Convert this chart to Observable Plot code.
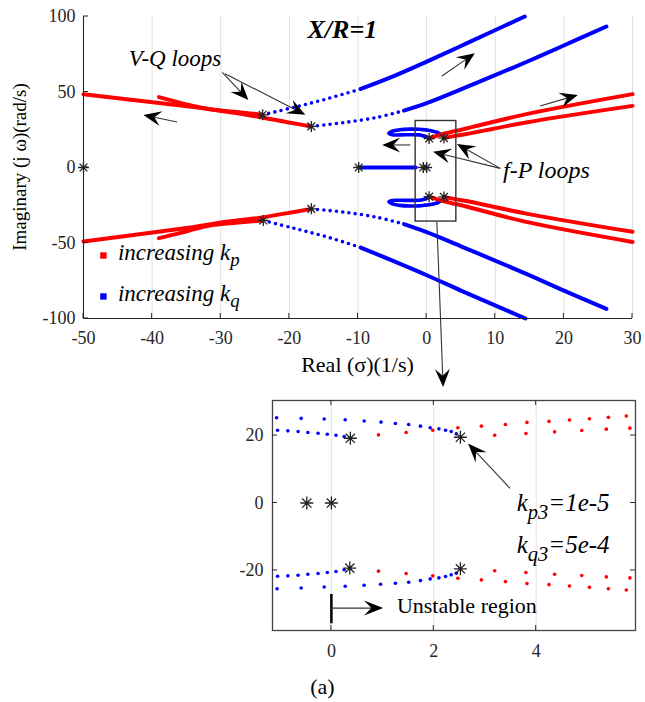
<!DOCTYPE html>
<html>
<head>
<meta charset="utf-8">
<script src="https://cdn.jsdelivr.net/npm/d3@7"></script>
<script src="https://cdn.jsdelivr.net/npm/@observablehq/plot@0.6"></script>
<style>
  body { margin: 0; background: #fff; }
  #fig { position: relative; width: 645px; height: 702px; font-family: "Liberation Serif", "Times New Roman", serif; }
  #fig svg { position: absolute; left: 0; }
  #fig svg text { font-family: "Liberation Serif", "Times New Roman", serif; }
  #caption { position: absolute; left: 0; width: 645px; top: 675px; text-align: center; font-size: 22px; line-height: 24px; color: #000; }
</style>
</head>
<body>
<div id="fig"><div id="caption">(a)</div></div>
<script>
// ---------- axes ----------
const mainXTicks = [-50, -40, -30, -20, -10, 0, 10, 20, 30];
const mainYTicks = [-100, -50, 0, 50, 100];
const insetXTicks = [0, 2, 4];
const insetYTicks = [-20, 0, 20];

// ---------- V-Q loops: k_p rising (red) ----------
const vqKpUpperA = [[-16.8, 27.2], [-20.3, 30.0], [-24.2, 33.3], [-28.6, 36.6], [-35.8, 41.0], [-50, 48.5]];
const vqKpUpperB = [[-23.9, 34.9], [-27, 36.5], [-31, 38.2], [-33.4, 40.2], [-36, 43.0], [-39, 46.6]];
const vqKpLowerA = [[-16.8, -27.4], [-20.3, -30.2], [-24.2, -33.2], [-28.6, -35.6], [-35.8, -40.6], [-50, -49.0]];
const vqKpLowerB = [[-23.8, -35.1], [-27, -36.3], [-31, -38.0], [-33.4, -40.3], [-36, -43.5], [-39, -46.8]];

// ---------- V-Q loops: k_q rising (blue); sparse samples near the start ----------
const vqKqUpperBSparse = [[-23.9, 34.9], [-19.3, 39.9], [-14.5, 45.5], [-9.6, 52.0]];
const vqKqUpperBDense = [[-9.6, 52.0], [-4.8, 60.5], [0.1, 70.3], [5, 80.5], [9.8, 90.6], [14.3, 100]];
const vqKqUpperASparse = [[-16.8, 27.2], [-12, 29.8], [-7.2, 33.2], [-3.3, 37.7]];
const vqKqUpperADense = [[-3.3, 37.7], [0.1, 42.8], [5, 51.8], [9.8, 60.8], [14.7, 70.2], [19.5, 79.8], [26.2, 93.4]];
const vqKqLowerASparse = [[-16.8, -27.4], [-12, -29.6], [-7.2, -33.0], [-3.3, -37.5]];
const vqKqLowerADense = [[-3.3, -37.5], [0.1, -43.0], [5, -52.2], [9.8, -61.3], [14.7, -70.8], [19.5, -80.5], [26.2, -93.6]];
const vqKqLowerBSparse = [[-23.8, -35.1], [-19.3, -40.3], [-14.5, -46.0], [-9.6, -53.0]];
const vqKqLowerBDense = [[-9.6, -53.0], [-4.8, -62.0], [0.1, -71.5], [5, -81.5], [9.8, -91.0], [14.4, -100]];

// ---------- f-P loops: k_p rising (red) ----------
const fpKpUpper1 = [[0.37, 19.2], [0.92, 20.2], [1.46, 20.9], [1.98, 21.6], [2.47, 22.3], [2.93, 22.8], [3.40, 23.3], [3.82, 23.9], [4.25, 24.2], [4.65, 24.6], [5.04, 25.0], [5.41, 25.4], [5.76, 25.8], [14.7, 35.5], [30, 48.6]];
const fpKpUpper2 = [[2.52, 19.5], [3.19, 20.1], [3.80, 20.6], [4.36, 21.1], [4.89, 21.5], [5.37, 21.9], [5.83, 22.2], [14.7, 30.0], [30, 40.8]];
const fpKpLower1 = [[0.36, -19.3], [0.92, -20.2], [1.46, -20.9], [1.98, -21.6], [2.47, -22.3], [2.93, -22.8], [3.40, -23.3], [3.82, -23.9], [4.25, -24.2], [4.65, -24.6], [5.04, -25.0], [5.41, -25.4], [5.76, -25.8], [14.7, -36.2], [30, -49.3]];
const fpKpLower2 = [[2.52, -19.5], [3.19, -20.1], [3.80, -20.6], [4.36, -21.1], [4.89, -21.5], [5.37, -21.9], [5.83, -22.2], [14.7, -30.7], [30, -42.6]];

// ---------- f-P loops: k_q rising (blue) ----------
const fpKqUpperOuter = [[-1.07, 25.3], [-0.59, 25.1], [-0.14, 24.9], [0.27, 24.7], [0.64, 24.3], [0.97, 24.0], [1.25, 23.6], [1.51, 23.3], [1.74, 22.8], [1.93, 22.3], [2.10, 22.0], [2.23, 21.6], [2.34, 21.2], [2.44, 20.5], [2.52, 19.5]];
const fpKqUpperInner = [[-1.05, 21.6], [-0.85, 21.4], [-0.65, 21.2], [-0.46, 20.9], [-0.26, 20.7], [-0.08, 20.4], [0.09, 20.1], [0.25, 19.7], [0.37, 19.2]];
const fpKqUpperBend = [[-2.5, 25.4], [-3.9, 25.0], [-5.0, 24.0], [-5.5, 22.6], [-5.0, 21.7], [-3.8, 21.6], [-2.3, 21.7]];
const fpKqLowerOuter = [[-1.06, -25.4], [-0.59, -25.2], [-0.14, -24.9], [0.27, -24.7], [0.64, -24.4], [0.96, -24.1], [1.25, -23.8], [1.51, -23.5], [1.74, -23.0], [1.93, -22.5], [2.10, -22.2], [2.23, -21.8], [2.34, -21.3], [2.44, -20.8], [2.52, -19.5]];
const fpKqLowerInner = [[-1.05, -21.7], [-0.85, -21.6], [-0.65, -21.4], [-0.46, -21.1], [-0.26, -20.9], [-0.08, -20.6], [0.09, -20.3], [0.25, -19.8], [0.36, -19.3]];
const fpKqLowerBend = [[-2.5, -25.5], [-3.9, -25.1], [-5.0, -24.1], [-5.5, -22.7], [-5.0, -21.8], [-3.8, -21.7], [-2.3, -21.8]];
const realAxisKq = [[-9.9, 0], [-1.6, 0]];

// ---------- initial poles (asterisks) ----------
const startPoles = [[-50, 0], [-23.9, 34.9], [-16.8, 27.2], [-23.8, -35.1], [-16.8, -27.4], [-9.9, 0], [-0.48, 0], [0, 0], [0.37, 19.2], [2.52, 19.5], [0.36, -19.3], [2.52, -19.5]];

// ---------- annotations ----------
const zoomBox = [{x1: -1.6, x2: 4.33, y1: -35.8, y2: 30.8}];
const mainArrows = [
  {x1: -36.3, y1: 29.8, x2: -41.2, y2: 34.4},
  {x1: -29.7, y1: 62.6, x2: -25.9, y2: 44.4},
  {x1: -29.3, y1: 61.8, x2: -17.6, y2: 34.6},
  {x1: 2.3, y1: 60.3, x2: 7.1, y2: 75.3},
  {x1: 16.6, y1: 40.4, x2: 22.1, y2: 47.7},
  {x1: -2.3, y1: 14.6, x2: -6.4, y2: 14.6},
  {x1: 10.8, y1: -0.9, x2: 4.5, y2: 15.2},
  {x1: 10.8, y1: -0.9, x2: 1.0, y2: 10.1},
  {x1: 1.56, y1: -36.2, x2: 2.48, y2: -145.7}
];
const mainLabels = [
  {x: -12.2, y: 89.4, parts: ["X/R=1"], size: 26, italic: true, bold: true, anchor: "middle", middle: true},
  {x: -36.6, y: 70.2, parts: ["V-Q loops"], size: 23, italic: true, anchor: "middle", middle: true},
  {x: 11.2, y: -3.3, parts: ["f-P loops"], size: 24, italic: true, anchor: "start", middle: true},
  {x: -44.9, y: -58.3, parts: ["increasing k", {sub: "p"}], size: 23, italic: true, middle: true, subDy: 7},
  {x: -44.9, y: -85.4, parts: ["increasing k", {sub: "q"}], size: 23, italic: true, middle: true, subDy: 7}
];
const legendKeys = [{x: -47.1, y: -58.3, color: "#ff0000"}, {x: -47.1, y: -85.4, color: "#0000ff"}];
const insetArrows = [
  {x1: 3.5, y1: 4.2, x2: 2.68, y2: 17.5},
  {x1: 0, y1: -31.3, x2: 1.02, y2: -31.3}
];
const unstableMarker = [{x: 0, y1: -27.1, y2: -35.8}];
const insetLabels = [
  {x: 3.63, y: -2.5, parts: ["k", {sub: "p3"}, "=1e-5"], size: 25, italic: true, subDy: 8},
  {x: 3.63, y: -15.0, parts: ["k", {sub: "q3"}, "=5e-4"], size: 25, italic: true, subDy: 8},
  {x: 1.29, y: -31.3, parts: ["Unstable region"], size: 22, middle: true}
];

// ---------- helpers ----------
const RED = "#ff0000", BLUE = "#0000ff", INK = "#262626";
const SERIF = "'Liberation Serif', 'Times New Roman', serif";
const xy = {x: d => d[0], y: d => d[1]};

// eight-armed asterisk, as drawn by MATLAB's '*' marker
const star8 = {
  draw(ctx, size) {
    const r = Math.sqrt(size / Math.PI), d = r * Math.SQRT1_2;
    ctx.moveTo(-r, 0); ctx.lineTo(r, 0);
    ctx.moveTo(0, -r); ctx.lineTo(0, r);
    ctx.moveTo(-d, -d); ctx.lineTo(d, d);
    ctx.moveTo(-d, d); ctx.lineTo(d, -d);
  }
};

// annotation arrows with filled, notched heads
function arrows(list, {len = 18, half = 7.5} = {}) {
  return (index, scales) => {
    const g = d3.create("svg:g");
    for (const a of list) {
      const x1 = scales.x(a.x1), y1 = scales.y(a.y1), x2 = scales.x(a.x2), y2 = scales.y(a.y2);
      const ang = Math.atan2(y2 - y1, x2 - x1), c = Math.cos(ang), s = Math.sin(ang);
      const pt = (u, v) => [x2 + u * c - v * s, y2 + u * s + v * c];
      const notch = pt(-0.62 * len, 0);
      g.append("line").attr("x1", x1).attr("y1", y1).attr("x2", notch[0]).attr("y2", notch[1])
        .attr("stroke", "#333").attr("stroke-width", 1.1);
      g.append("path").attr("fill", "#000")
        .attr("d", "M" + [pt(0, 0), pt(-len, -half), notch, pt(-len, half)].map(p => p.join(",")).join("L") + "Z");
    }
    return g.node();
  };
}

// text with subscripts
function richText(list) {
  return (index, scales) => {
    const g = d3.create("svg:g");
    for (const it of list) {
      const t = g.append("text")
        .attr("x", scales.x(it.x)).attr("y", scales.y(it.y))
        .attr("text-anchor", it.anchor || "start")
        .attr("font-family", SERIF)
        .attr("font-size", it.size)
        .attr("font-style", it.italic ? "italic" : null)
        .attr("font-weight", it.bold ? "bold" : null)
        .attr("dominant-baseline", it.middle ? "middle" : null)
        .attr("fill", "#000");
      let shift = 0;
      for (const p of it.parts) {
        const sub = typeof p !== "string";
        const ts = t.append("tspan").text(sub ? p.sub : p);
        const target = sub ? it.subDy : 0;
        if (target - shift) ts.attr("dy", target - shift);
        if (sub) ts.attr("font-size", it.size * 0.82);
        shift = target;
      }
    }
    return g.node();
  };
}

// axis titles placed relative to the plot frame
function axisTitles({bottom, bottomOffset, bottomSize, left, leftOffset, leftSize}) {
  return (index, scales, values, dims) => {
    const L = dims.marginLeft, R = dims.width - dims.marginRight;
    const T = dims.marginTop, B = dims.height - dims.marginBottom;
    const g = d3.create("svg:g").attr("font-family", SERIF).attr("fill", "#000").attr("text-anchor", "middle");
    g.append("text").attr("x", (L + R) / 2).attr("y", B + bottomOffset).attr("font-size", bottomSize)
      .attr("dominant-baseline", "middle").text(bottom);
    g.append("text").attr("transform", `translate(${L - leftOffset},${(T + B) / 2}) rotate(-90)`).attr("font-size", leftSize)
      .attr("dominant-baseline", "middle").text(left);
    return g.node();
  };
}

// MATLAB-style ticks pointing into the plot area
function innerTicks(xTicks, yTicks, {size = 5, boxed = false} = {}) {
  return (index, scales, values, dims) => {
    const L = dims.marginLeft, R = dims.width - dims.marginRight;
    const T = dims.marginTop, B = dims.height - dims.marginBottom;
    const g = d3.create("svg:g").attr("stroke", INK).attr("stroke-width", 1);
    for (const v of xTicks) {
      const px = scales.x(v);
      g.append("line").attr("x1", px).attr("x2", px).attr("y1", B).attr("y2", B - size);
      if (boxed) g.append("line").attr("x1", px).attr("x2", px).attr("y1", T).attr("y2", T + size);
    }
    for (const v of yTicks) {
      const py = scales.y(v);
      g.append("line").attr("y1", py).attr("y2", py).attr("x1", L).attr("x2", L + size);
      if (boxed) g.append("line").attr("y1", py).attr("y2", py).attr("x1", R).attr("x2", R - size);
    }
    return g.node();
  };
}

const solid = (data, color) => Plot.line(data, {...xy, stroke: color, strokeWidth: 4, curve: "catmull-rom"});
const dotted = (data, color) => Plot.line(data, {...xy, stroke: color, strokeWidth: 3.6, strokeLinecap: "round", strokeDasharray: "0 6.3", curve: "catmull-rom"});

const fpKqUpperLoop = [...fpKqUpperOuter.slice().reverse(), ...fpKqUpperBend, ...fpKqUpperInner];
const fpKqLowerLoop = [...fpKqLowerOuter.slice().reverse(), ...fpKqLowerBend, ...fpKqLowerInner];

const textStyle = {background: "transparent", fontFamily: SERIF, fontSize: "18px", color: INK, overflow: "visible"};

// ---------- main root-locus plot ----------
const main = Plot.plot({
  width: 645, height: 395,
  marginLeft: 83, marginRight: 13, marginTop: 16, marginBottom: 77,
  style: textStyle,
  x: {domain: [-50, 30], ticks: mainXTicks, tickSize: 0, tickPadding: 13, tickFormat: String, label: null},
  y: {domain: [-100, 100], ticks: mainYTicks, tickSize: 0, tickPadding: 8, tickFormat: String, label: null},
  marks: [
    Plot.ruleX(mainXTicks.slice(1), {stroke: "#e2e2e2", strokeWidth: 1}),
    dotted(vqKqUpperBSparse, BLUE), solid(vqKqUpperBDense, BLUE),
    dotted(vqKqUpperASparse, BLUE), solid(vqKqUpperADense, BLUE),
    dotted(vqKqLowerASparse, BLUE), solid(vqKqLowerADense, BLUE),
    dotted(vqKqLowerBSparse, BLUE), solid(vqKqLowerBDense, BLUE),
    Plot.line(fpKqUpperLoop, {...xy, stroke: BLUE, strokeWidth: 3.6, curve: "catmull-rom"}),
    Plot.line(fpKqLowerLoop, {...xy, stroke: BLUE, strokeWidth: 3.6, curve: "catmull-rom"}),
    solid(realAxisKq, BLUE),
    solid(vqKpUpperA, RED), solid(vqKpUpperB, RED),
    solid(vqKpLowerA, RED), solid(vqKpLowerB, RED),
    solid(fpKpUpper1, RED), solid(fpKpUpper2, RED),
    solid(fpKpLower1, RED), solid(fpKpLower2, RED),
    Plot.rect(zoomBox, {x1: "x1", x2: "x2", y1: "y1", y2: "y2", fill: "none", stroke: "#333", strokeWidth: 1.4}),
    Plot.dot(startPoles, {...xy, symbol: star8, r: 5.5, stroke: "#222", strokeWidth: 1.3}),
    arrows(mainArrows),
    Plot.dot(legendKeys, {x: "x", y: "y", symbol: "square", r: 3.6, fill: "color", stroke: null}),
    richText(mainLabels),
    axisTitles({bottom: "Real (σ)(1/s)", bottomOffset: 49, bottomSize: 22, left: "Imaginary (j ω)(rad/s)", leftOffset: 61, leftSize: 19}),
    Plot.ruleX([-50], {stroke: INK, strokeWidth: 1.1}),
    Plot.ruleY([-100], {stroke: INK, strokeWidth: 1.1}),
    innerTicks(mainXTicks, mainYTicks)
  ]
});
main.style.top = "0px";

// ---------- zoomed view around the origin ----------
const insetX = [-1.15, 5.94], insetY = [-37.8, 30.4];
const inView = pts => pts.filter(([x, y]) => x >= insetX[0] && x <= insetX[1] && y >= insetY[0] && y <= insetY[1]);
const samples = (data, color) => Plot.dot(inView(data), {...xy, r: 1.8, fill: color, stroke: null});

const inset = Plot.plot({
  width: 645, height: 280,
  marginLeft: 272, marginRight: 10, marginTop: 10, marginBottom: 40,
  style: textStyle,
  x: {domain: insetX, ticks: insetXTicks, tickSize: 0, tickPadding: 14, tickFormat: String, label: null},
  y: {domain: insetY, ticks: insetYTicks, tickSize: 0, tickPadding: 9, tickFormat: String, label: null},
  marks: [
    Plot.ruleX(insetXTicks, {stroke: "#e2e2e2", strokeWidth: 1}),
    samples(fpKqUpperOuter, BLUE), samples(fpKqUpperInner, BLUE),
    samples(fpKqLowerOuter, BLUE), samples(fpKqLowerInner, BLUE),
    samples(fpKpUpper1, RED), samples(fpKpUpper2, RED),
    samples(fpKpLower1, RED), samples(fpKpLower2, RED),
    Plot.dot(inView(startPoles), {...xy, symbol: star8, r: 6.5, stroke: "#222", strokeWidth: 1.3}),
    Plot.ruleX(unstableMarker, {x: "x", y1: "y1", y2: "y2", stroke: "#000", strokeWidth: 2.5}),
    arrows(insetArrows, {len: 19, half: 7.5}),
    richText(insetLabels),
    Plot.frame({stroke: "#444", strokeWidth: 1.3}),
    innerTicks(insetXTicks, insetYTicks, {boxed: true})
  ]
});
inset.style.top = "390px";

const fig = document.getElementById("fig");
fig.appendChild(inset);
fig.appendChild(main);
</script>
</body>
</html>
